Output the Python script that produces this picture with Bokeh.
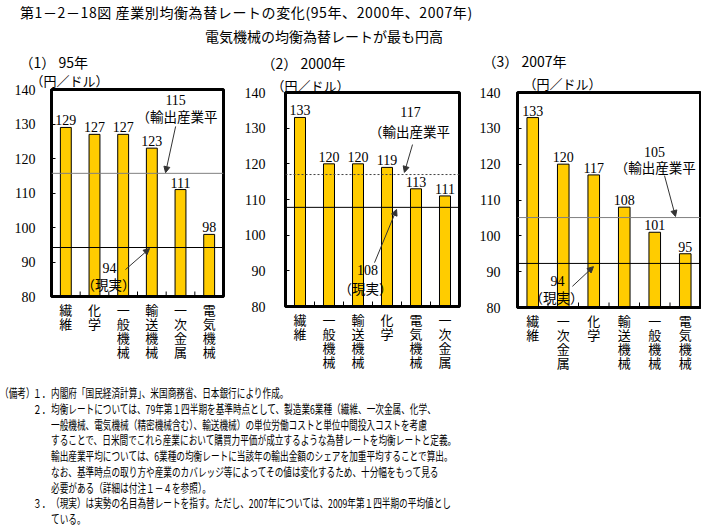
import math
from bokeh.plotting import figure
from bokeh.layouts import column, row
from bokeh.models import Div, FixedTicker, Span, Arrow, NormalHead, Label, Title
from bokeh.embed import file_html
from bokeh.resources import INLINE
from bokeh.core.properties import value

# ---------------- data ----------------
chart_titles = ["（1） 95年", "（2） 2000年", "（3） 2007年"]
y_unit = "（円／ドル）"
y_ticks = [80, 90, 100, 110, 120, 130, 140]

cats_1995 = ["繊維", "化学", "一般機械", "輸送機械", "一次金属", "電気機械"]
vals_1995 = [129, 127, 127, 123, 111, 98]
cats_2000 = ["繊維", "一般機械", "輸送機械", "化学", "電気機械", "一次金属"]
vals_2000 = [133, 120, 120, 119, 113, 111]
cats_2007 = ["繊維", "一次金属", "化学", "輸送機械", "一般機械", "電気機械"]
vals_2007 = [133, 120, 117, 108, 101, 95]

avg_labels = ["115", "117", "105"]          # 輸出産業平均 (label)
avg_lines = [115.7, 117.0, 105.1]           # where the line is drawn
real_labels = ["94", "108", "94"]           # 現実 (label)
real_lines = [94.2, 107.8, 92.3]            # where the line is drawn
avg_text = "（輸出産業平"
real_text = "（現実）"

title_line1 = "第1－2－18図 産業別均衡為替レートの変化(95年、2000年、2007年)"
title_line2 = "電気機械の均衡為替レートが最も円高"

notes = [
    (-5, "（備考）"),
    (28, "１．"), (45.5, "内閣府「国民経済計算」、米国商務省、日本銀行により作成。"),
    (28, "２．"), (45.5, "均衡レートについては、79年第１四半期を基準時点として、製造業6業種（繊維、一次金属、化学、"),
    (45.5, "一般機械、電気機械（精密機械含む）、輸送機械）の単位労働コストと単位中間投入コストを考慮"),
    (45.5, "することで、日米間でこれら産業において購買力平価が成立するような為替レートを均衡レートと定義。"),
    (45.5, "輸出産業平均については、6業種の均衡レートに当該年の輸出金額のシェアを加重平均することで算出。"),
    (45.5, "なお、基準時点の取り方や産業のカバレッジ等によってその値は変化するため、十分幅をもって見る"),
    (45.5, "必要がある（詳細は付注１－４を参照）。"),
    (28, "３．"), (45.5, "（現実）は実勢の名目為替レートを指す。ただし、2007年については、2009年第１四半期の平均値とし"),
    (45.5, "ている。"),
]
note_rows = [0, 0, 0, 1, 1, 2, 3, 4, 5, 6, 7, 7, 8]

# ---------------- style / geometry ----------------
JP = "Noto Sans CJK JP"
NUM = "Liberation Serif"
BAR = "#FFCC00"
FIG_H = 335
TOP_H = 37

geo = [
    dict(w=237, bl=51, br=14, bt=42, fh=207, ystand=16,
         title_off=-32, unit_off=-21, title_so=-7, unit_so=0,
         avg_num=(4.33, 137.1), avg_txt=(4.38, 132.2), avg_arrow=(4.33, 129.3, 3.98, 115.9),
         real_num=(2.02, 88.4), real_txt=(1.99, 83.5), real_arrow=(2.58, 87.8, 3.42, 93.9),
         avg_dash="solid", avg_color="#808080"),
    dict(w=237, bl=48, br=15, bt=45, fh=214, ystand=20,
         title_off=-24, unit_off=-14, title_so=5, unit_so=-4,
         avg_num=(4.31, 134.4), avg_txt=(4.28, 129.3), avg_arrow=(4.38, 125.4, 4.10, 117.6),
         real_num=(2.83, 90.1), real_txt=(2.76, 85.3), real_arrow=(3.07, 92.3, 3.83, 107.2),
         avg_dash="2 2", avg_color="#404040"),
    dict(w=227, bl=43, br=1, bt=45, fh=215, ystand=17,
         title_off=-35, unit_off=6, title_so=1, unit_so=0,
         avg_num=(4.49, 123.5), avg_txt=(4.52, 119.1), avg_arrow=(4.82, 116.8, 5.18, 105.4),
         real_num=(1.31, 87.5), real_txt=(1.28, 82.8), real_arrow=(1.80, 85.9, 2.49, 91.4),
         avg_dash="solid", avg_color="#808080"),
]


def make_chart(k, cats, vals):
    g = geo[k]
    n = len(cats)
    ymin, ymax = y_ticks[0], y_ticks[-1]
    p = figure(width=g["w"], height=FIG_H, x_range=(0, n), y_range=(ymin, ymax),
               output_backend="svg", toolbar_location=None, title=None,
               min_border_left=g["bl"], min_border_right=g["br"],
               min_border_top=g["bt"], min_border_bottom=FIG_H - g["bt"] - g["fh"])
    p.frame_align = False
    p.xgrid.visible = False
    p.ygrid.visible = False
    p.outline_line_color = "black"
    p.outline_line_width = 3
    p.background_fill_color = "white"
    p.border_fill_color = None

    centers = [i + 0.5 for i in range(n)]
    # x axis
    p.xaxis.ticker = FixedTicker(ticks=centers)
    p.xaxis.major_label_overrides = {c: "\n".join(name) for c, name in zip(centers, cats)}
    p.xaxis.major_tick_line_color = None
    p.xaxis.minor_tick_line_color = None
    p.xaxis.axis_line_width = 3
    p.xaxis.major_label_text_font = JP
    p.xaxis.major_label_text_font_size = "13px"
    p.xaxis.major_label_text_line_height = 0.74
    p.xaxis.major_label_standoff = -3
    p.xaxis.major_label_text_color = "black"
    # y axis
    p.yaxis.ticker = FixedTicker(ticks=y_ticks)
    p.yaxis.major_tick_in = 4
    p.yaxis.major_tick_out = 0
    p.yaxis.minor_tick_line_color = None
    p.yaxis.axis_line_width = 3
    p.yaxis.major_label_text_font = NUM
    p.yaxis.major_label_text_font_size = "14px"
    p.yaxis.major_label_standoff = g["ystand"]
    p.yaxis.major_label_text_color = "black"

    # bars
    p.vbar(x=centers, top=vals, bottom=ymin, width=0.38,
           fill_color=BAR, line_color="black", line_width=1)
    # inward ticks between categories
    p.scatter(x=list(range(1, n)), y=[ymin] * (n - 1), marker="dash",
              angle=math.pi / 2, size=10, line_color="black", line_width=1)
    # value labels
    p.text(x=centers, y=vals, text=[str(v) for v in vals], text_align="center",
           text_baseline="alphabetic", y_offset=-7, text_font=value(NUM),
           text_font_size="14px", text_color="black")

    # reference lines
    p.add_layout(Span(location=avg_lines[k], dimension="width", line_color=g["avg_color"],
                      line_width=1, line_dash=g["avg_dash"]))
    p.add_layout(Span(location=real_lines[k], dimension="width", line_color="black",
                      line_width=1))

    # annotations
    def lab(xy, text, font, size, align="center"):
        p.add_layout(Label(x=xy[0], y=xy[1], text=text, text_font=font, text_font_size=size,
                           text_align=align, text_baseline="middle", text_color="black"))
    lab(g["avg_num"], avg_labels[k], NUM, "14px")
    lab(g["avg_txt"], avg_text, JP, "13.5px")
    lab(g["real_num"], real_labels[k], NUM, "14px")
    lab(g["real_txt"], real_text, JP, "13.5px")
    for key in ("avg_arrow", "real_arrow"):
        x0, y0, x1, y1 = g[key]
        p.add_layout(Arrow(end=NormalHead(size=6, fill_color="#333333", line_color="#333333"),
                           x_start=x0, y_start=y0, x_end=x1, y_end=y1,
                           line_color="#333333", line_width=1))

    # unit and chart title above the frame
    p.add_layout(Title(text=y_unit, align="left", offset=g["unit_off"], standoff=g["unit_so"],
                       text_font=JP, text_font_size="13px", text_font_style="normal",
                       text_color="black"), "above")
    p.add_layout(Title(text=chart_titles[k], align="left", offset=g["title_off"], standoff=g["title_so"],
                       text_font=JP, text_font_size="14px", text_font_style="normal",
                       text_color="black"), "above")
    return p


p1 = make_chart(0, cats_1995, vals_1995)
p2 = make_chart(1, cats_2000, vals_2000)
p3 = make_chart(2, cats_2007, vals_2007)

span_css = "position:absolute;white-space:nowrap;font-family:'Noto Sans CJK JP';color:#000;"
top_html = (
    f'<div style="position:relative;width:701px;height:{TOP_H}px;">'
    f'<span style="{span_css}left:15px;top:0px;font-size:14px;line-height:14px;letter-spacing:0.6px;">{title_line1}</span>'
    f'<span style="{span_css}left:200px;top:24px;font-size:14px;line-height:14px;">{title_line2}</span>'
    '</div>'
)
top_div = Div(text=top_html, width=701, height=TOP_H)

note_spans = []
for (x, t), r in zip(notes, note_rows):
    top = r * 15.75
    note_spans.append(
        f'<span style="{span_css}left:{x}px;top:{top}px;font-size:12px;line-height:12px;'
        f'transform:scaleX(0.72);transform-origin:0 0;">{t}</span>')
notes_html = '<div style="position:relative;width:701px;height:137px;">' + "".join(note_spans) + '</div>'
notes_div = Div(text=notes_html, width=701, height=137)

layout = column(top_div, row(p1, p2, p3, spacing=0), notes_div, spacing=0)
open("out.html", "w").write(file_html(layout, INLINE))
